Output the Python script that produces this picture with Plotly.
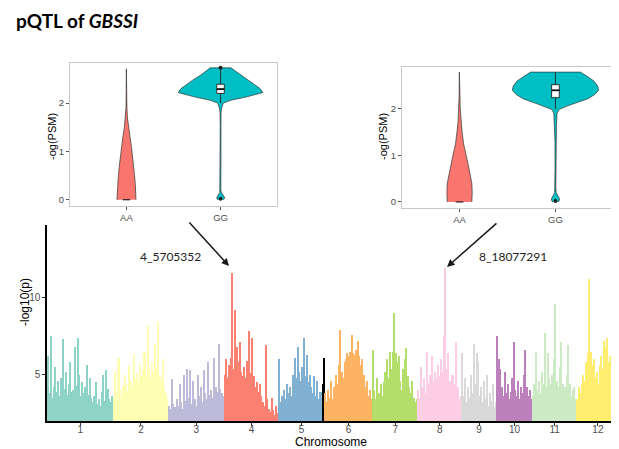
import plotly.graph_objects as go

W, H = 619, 449          # target picture size
PAD = 8                  # default page body margin of the html page

# ---------------- Manhattan data (-log10 p, read per ~1 Mb bin) ----------------
chrom_names = ["1", "2", "3", "4", "5", "6", "7", "8", "9", "10", "11", "12"]
chrom_lengths = [43.3, 35.9, 36.4, 35.5, 29.9, 31.2, 29.7, 28.4, 23.0, 23.2, 29.0, 27.5]
chrom_colors = ["#8DD3C7", "#FFFFB3", "#BEBADA", "#FB8072", "#80B1D3", "#FDB462",
                "#B3DE69", "#FCCDE5", "#D9D9D9", "#BC80BD", "#CCEBC5", "#FFED6F"]

chr1 = [6.2, 3.8, 7.5, 3.5, 4.2, 5.5, 3.9, 4.6, 3.6, 4.8, 7.3, 4.1, 5.2, 3.7, 4.4, 5.8, 3.9, 4.0,
        6.8, 4.3, 7.4, 5.0, 3.6, 4.5, 3.8, 4.2, 5.6, 3.7, 4.8, 3.5, 3.2, 3.6, 4.5, 3.1, 3.4, 3.0,
        3.9, 5.0, 3.3, 5.3, 4.1, 3.4, 3.2, 3.6]
chr2 = [3.5, 5.2, 3.8, 6.1, 4.0, 3.6, 4.3, 5.0, 4.4, 3.9, 5.6, 4.6, 4.2, 6.3, 4.8, 5.1, 4.5, 5.7,
        4.9, 5.3, 6.5, 5.0, 8.2, 5.4, 4.7, 5.8, 5.2, 7.0, 5.5, 8.4, 5.0, 4.6, 6.0, 4.3, 3.8, 3.4]
chr3 = [3.0, 2.8, 4.7, 3.1, 2.9, 3.4, 3.0, 4.4, 3.2, 2.8, 5.0, 3.3, 5.4, 3.5, 5.3, 3.1, 4.6, 3.4,
        3.0, 5.0, 3.6, 4.2, 3.2, 5.3, 3.8, 3.4, 5.8, 3.7, 4.0, 3.5, 6.1, 4.2, 3.9, 7.0, 4.1, 3.8, 3.6]
chr4 = [5.0, 6.0, 4.8, 5.6, 6.1, 11.6, 5.4, 9.2, 6.8, 5.8, 7.1, 5.2, 4.9, 5.5, 4.8, 5.9, 7.8, 5.1,
        7.4, 4.9, 4.2, 4.5, 3.9, 4.4, 3.6, 3.2, 3.0, 6.9, 3.4, 2.8, 2.6, 3.5, 2.7, 2.4, 3.0, 2.5]
chr5 = [6.0, 3.2, 3.6, 4.0, 3.4, 4.4, 3.8, 4.2, 3.6, 5.0, 6.1, 4.8, 6.8, 5.2, 4.6, 5.5, 7.4, 4.9,
        6.3, 4.5, 5.0, 4.2, 3.8, 4.9, 3.6, 4.6, 3.4, 3.9, 3.2, 3.5]
chr6 = [3.8, 3.2, 4.0, 3.5, 4.6, 3.4, 4.2, 5.0, 4.4, 5.6, 7.9, 5.2, 4.8, 5.8, 6.0, 6.4, 6.2, 6.5,
        7.6, 6.4, 6.3, 6.6, 7.2, 6.2, 5.6, 6.0, 5.0, 4.2, 4.6, 3.6, 4.0, 3.4]
chr7 = [6.6, 4.0, 3.4, 4.8, 3.8, 4.4, 3.6, 4.5, 5.2, 6.0, 4.8, 6.5, 5.4, 6.5, 9.0, 6.4, 5.8, 6.2,
        4.6, 4.0, 5.4, 6.0, 6.7, 4.9, 4.2, 3.8, 4.6, 3.5, 3.2, 3.4]
chr8 = [4.0, 3.5, 5.5, 4.2, 4.8, 3.8, 6.5, 4.4, 5.0, 6.2, 4.6, 5.2, 4.8, 5.6, 4.9, 6.0, 5.2, 7.5,
        11.9, 5.4, 6.4, 4.6, 5.0, 5.0, 4.4, 7.1, 4.2, 3.4, 3.6]
chr9 = [6.4, 3.6, 4.8, 3.2, 4.2, 3.5, 5.0, 3.8, 7.0, 4.4, 6.4, 5.8, 3.6, 4.2, 3.2, 4.6, 3.4, 5.0,
        3.0, 3.8, 3.3, 4.4, 2.9, 3.2]
chr10 = [7.5, 6.0, 5.4, 4.2, 3.6, 5.2, 3.8, 4.4, 3.4, 3.9, 4.8, 7.1, 4.0, 3.6, 4.6, 3.4, 4.2, 3.8,
         5.0, 6.6, 4.2, 3.6, 4.0, 3.4]
chr11 = [3.6, 4.4, 6.5, 4.0, 4.6, 3.8, 5.2, 4.4, 7.7, 4.2, 6.4, 4.8, 4.4, 5.0, 6.0, 9.6, 4.6, 4.2,
         5.5, 7.1, 4.4, 3.8, 4.2, 5.0, 6.9, 4.4, 3.6, 4.0, 4.2, 3.4]
chr12 = [3.4, 4.2, 3.8, 4.4, 5.0, 4.6, 5.8, 6.4, 11.2, 6.5, 5.6, 6.0, 4.8, 5.2, 4.4, 5.6, 6.2, 5.4,
         7.2, 6.8, 7.4, 5.8, 6.2, 4.6, 5.4, 4.2, 4.8, 3.6]
chrom_values = [chr1, chr2, chr3, chr4, chr5, chr6, chr7, chr8, chr9, chr10, chr11, chr12]

# unanchored (black) markers at the end of chromosome 5
black_pos_mb = [28.8, 29.6]
black_vals = [4.4, 6.1]

# ---------------- Violin data (profiles) ----------------
left_aa_y = [0, 0.1, 0.3, 0.5, 0.7, 0.9, 1.1, 1.3, 1.5, 1.7, 1.9, 2.2, 2.5, 2.71]
left_aa_w = [0.101, 0.100, 0.095, 0.086, 0.076, 0.065, 0.053, 0.038, 0.022, 0.010, 0.005, 0.003, 0.002, 0.001]
left_gg_y = [0.0, 0.03, 0.06, 0.1, 0.15, 0.2, 0.5, 1.0, 1.5, 1.8, 1.9, 2.0, 2.06, 2.13, 2.22, 2.3,
             2.37, 2.47, 2.58, 2.68, 2.73]
left_gg_w = [0.03, 0.042, 0.04, 0.025, 0.008, 0.003, 0.003, 0.003, 0.003, 0.005, 0.012, 0.03, 0.11,
             0.28, 0.45, 0.42, 0.37, 0.30, 0.21, 0.14, 0.11]
left_gg_box = dict(q1=2.2, median=2.29, q3=2.39, lower=2.0, upper=2.73)
left_gg_outliers = [0.02, 2.73]

right_aa_y = [0, 0.2, 0.4, 0.6, 0.8, 1.0, 1.25, 1.5, 1.75, 2.0, 2.3, 2.6, 2.79]
right_aa_w = [0.128, 0.132, 0.128, 0.112, 0.09, 0.069, 0.042, 0.027, 0.014, 0.007, 0.004, 0.003, 0.002]
right_gg_y = [0, 0.04, 0.08, 0.13, 0.2, 0.3, 0.8, 1.3, 1.63, 1.91, 1.99, 2.06, 2.13, 2.22, 2.31,
              2.4, 2.49, 2.6, 2.7, 2.79]
right_gg_w = [0.03, 0.042, 0.04, 0.025, 0.008, 0.004, 0.004, 0.005, 0.01, 0.017, 0.04, 0.12, 0.22,
              0.34, 0.41, 0.45, 0.44, 0.40, 0.33, 0.26]
right_gg_box = dict(q1=2.24, median=2.4, q3=2.52, lower=2.0, upper=2.79)
right_gg_outliers = [0.02]

genotypes = ["AA", "GG"]
aa_color = "#F8766D"
gg_color = "#00BFC4"

fig = go.Figure()

# ---------------- Manhattan bars ----------------
offset = 0.0
tick_pos = []
for name, L, vals, col in zip(chrom_names, chrom_lengths, chrom_values, chrom_colors):
    n = len(vals)
    step = L / n
    xs = [offset + (i + 0.5) * step for i in range(n)]
    fig.add_trace(go.Bar(x=xs, y=vals, width=step, marker=dict(color=col, line=dict(width=0)),
                         opacity=1, xaxis="x", yaxis="y", showlegend=False, name="chr" + name))
    if name == "5":
        fig.add_trace(go.Bar(x=[offset + p for p in black_pos_mb], y=black_vals, width=0.8,
                             marker=dict(color="black", line=dict(width=0)), opacity=1,
                             xaxis="x", yaxis="y", showlegend=False))
    tick_pos.append(offset + L / 2)
    offset += L
total_len = offset


def violin(center, ys, ws, color, xa, ya):
    xs = [center + w for w in ws] + [center - w for w in reversed(ws)]
    yy = list(ys) + list(reversed(ys))
    return go.Scatter(x=xs, y=yy, fill="toself", fillcolor=color, mode="lines",
                      line=dict(color="#333333", width=0.7), xaxis=xa, yaxis=ya,
                      showlegend=False, hoverinfo="skip")


def add_box(center, st, xa, ya, hw=0.04):
    # whiskers
    fig.add_trace(go.Scatter(x=[center, center, None, center, center],
                             y=[st["q3"], st["upper"], None, st["q1"], st["lower"]],
                             mode="lines", line=dict(color="#222", width=0.9),
                             xaxis=xa, yaxis=ya, showlegend=False, hoverinfo="skip"))
    # box
    fig.add_trace(go.Scatter(x=[center - hw, center + hw, center + hw, center - hw, center - hw],
                             y=[st["q1"], st["q1"], st["q3"], st["q3"], st["q1"]],
                             mode="lines", fill="toself", fillcolor="white",
                             line=dict(color="#222", width=0.9),
                             xaxis=xa, yaxis=ya, showlegend=False, hoverinfo="skip"))
    # median
    fig.add_trace(go.Scatter(x=[center - hw, center + hw], y=[st["median"], st["median"]],
                             mode="lines", line=dict(color="#111", width=1.8),
                             xaxis=xa, yaxis=ya, showlegend=False, hoverinfo="skip"))


# left panel
fig.add_trace(violin(1, left_aa_y, left_aa_w, aa_color, "x2", "y2"))
fig.add_trace(violin(2, left_gg_y, left_gg_w, gg_color, "x2", "y2"))
fig.add_trace(go.Scatter(x=[0.96, 1.04], y=[0, 0], mode="lines", line=dict(color="#222", width=1.2),
                         xaxis="x2", yaxis="y2", showlegend=False))
add_box(2, left_gg_box, "x2", "y2")
fig.add_trace(go.Scatter(x=[2] * len(left_gg_outliers), y=left_gg_outliers, mode="markers",
                         marker=dict(color="#222", size=4), xaxis="x2", yaxis="y2", showlegend=False))
# right panel
fig.add_trace(violin(1, right_aa_y, right_aa_w, aa_color, "x3", "y3"))
fig.add_trace(violin(2, right_gg_y, right_gg_w, gg_color, "x3", "y3"))
fig.add_trace(go.Scatter(x=[0.96, 1.04], y=[0, 0], mode="lines", line=dict(color="#222", width=1.2),
                         xaxis="x3", yaxis="y3", showlegend=False))
add_box(2, right_gg_box, "x3", "y3")
fig.add_trace(go.Scatter(x=[2] * len(right_gg_outliers), y=right_gg_outliers, mode="markers",
                         marker=dict(color="#222", size=4), xaxis="x3", yaxis="y3", showlegend=False))

FW, FH = W - PAD, H - PAD


def px(x):
    return (x - PAD) / FW


def py(y):
    return (H - y) / FH


tickfont = dict(family="Liberation Sans", size=10, color="#4D4D4D")
small_tick = dict(family="Liberation Sans", size=9.5, color="#4D4D4D")

fig.update_layout(
    width=FW, height=FH, margin=dict(l=0, r=0, t=0, b=0),
    paper_bgcolor="white", plot_bgcolor="white", barmode="overlay", bargap=0,
    showlegend=False,
    xaxis=dict(domain=[px(47), 1.0], range=[0, total_len], tickvals=tick_pos, ticktext=chrom_names,
               showline=True, linecolor="black", linewidth=1.5, ticks="outside", ticklen=3,
               tickcolor="#333", tickfont=tickfont, showgrid=False, zeroline=False, anchor="y",
               ticklabelstandoff=-5),
    yaxis=dict(domain=[py(421), py(225)], range=[2, 14.7], tickvals=[5, 10],
               showline=True, linecolor="black", linewidth=1.5, ticks="outside", ticklen=3,
               tickcolor="#333", tickfont=tickfont, showgrid=False, zeroline=False, anchor="x"),
    xaxis2=dict(domain=[px(70), px(277)], range=[0.4, 2.6], tickvals=[1, 2], ticktext=genotypes,
                showline=True, mirror=True, linecolor="#C8C8C8", linewidth=1, ticks="outside",
                ticklen=3, tickcolor="#555", tickfont=small_tick, showgrid=False, zeroline=False,
                anchor="y2"),
    yaxis2=dict(domain=[py(206), py(63)], range=[-0.13, 2.83], tickvals=[0, 1, 2],
                showline=True, mirror=True, linecolor="#C8C8C8", linewidth=1, ticks="outside",
                ticklen=3, tickcolor="#555", tickfont=small_tick, showgrid=False, zeroline=False,
                anchor="x2"),
    xaxis3=dict(domain=[px(402), px(613)], range=[0.4, 2.6], tickvals=[1, 2], ticktext=genotypes,
                showline=True, mirror=True, linecolor="#C8C8C8", linewidth=1, ticks="outside",
                ticklen=3, tickcolor="#555", tickfont=small_tick, showgrid=False, zeroline=False,
                anchor="y3"),
    yaxis3=dict(domain=[py(208), py(67)], range=[-0.13, 2.9], tickvals=[0, 1, 2],
                showline=True, mirror=True, linecolor="#C8C8C8", linewidth=1, ticks="outside",
                ticklen=3, tickcolor="#555", tickfont=small_tick, showgrid=False, zeroline=False,
                anchor="x3"),
)

ann = []
ann.append(dict(text="<b>pQTL of <i>GBSSI</i></b>", x=px(14), y=py(21), xref="paper", yref="paper",
                xanchor="left", yanchor="middle", showarrow=False,
                font=dict(family="Lato", size=19, color="black")))
ann.append(dict(text="-log10(p)", x=px(25), y=py(302), xref="paper", yref="paper", textangle=-90,
                showarrow=False, xanchor="center", yanchor="middle",
                font=dict(family="Liberation Sans", size=12, color="black")))
ann.append(dict(text="Chromosome", x=px(331), y=py(442), xref="paper", yref="paper",
                showarrow=False, xanchor="center", yanchor="middle",
                font=dict(family="Liberation Sans", size=12, color="black")))
for xc in (52, 383):
    ann.append(dict(text="-og(PSM)", x=px(xc), y=py(137), xref="paper", yref="paper", textangle=-90,
                    showarrow=False, xanchor="center", yanchor="middle",
                    font=dict(family="Liberation Sans", size=11, color="black")))
ann.append(dict(text="4_5705352", x=px(170), y=py(256), xref="paper", yref="paper", showarrow=False,
                xanchor="center", yanchor="middle", font=dict(family="Lato", size=12, color="#222")))
ann.append(dict(text="8_18077291", x=px(513), y=py(256), xref="paper", yref="paper", showarrow=False,
                xanchor="center", yanchor="middle", font=dict(family="Lato", size=12, color="#222")))
# arrows
ann.append(dict(text="", x=px(229), y=py(266), xref="paper", yref="paper", showarrow=True,
                ax=188 - 229, ay=221 - 266, arrowhead=2, arrowsize=1, arrowwidth=1.5,
                arrowcolor="#1a1a1a"))
ann.append(dict(text="", x=px(447), y=py(267), xref="paper", yref="paper", showarrow=True,
                ax=498 - 447, ay=222 - 267, arrowhead=2, arrowsize=1, arrowwidth=1.5,
                arrowcolor="#1a1a1a"))
fig.update_layout(annotations=ann)

fig.write_html("out.html")
